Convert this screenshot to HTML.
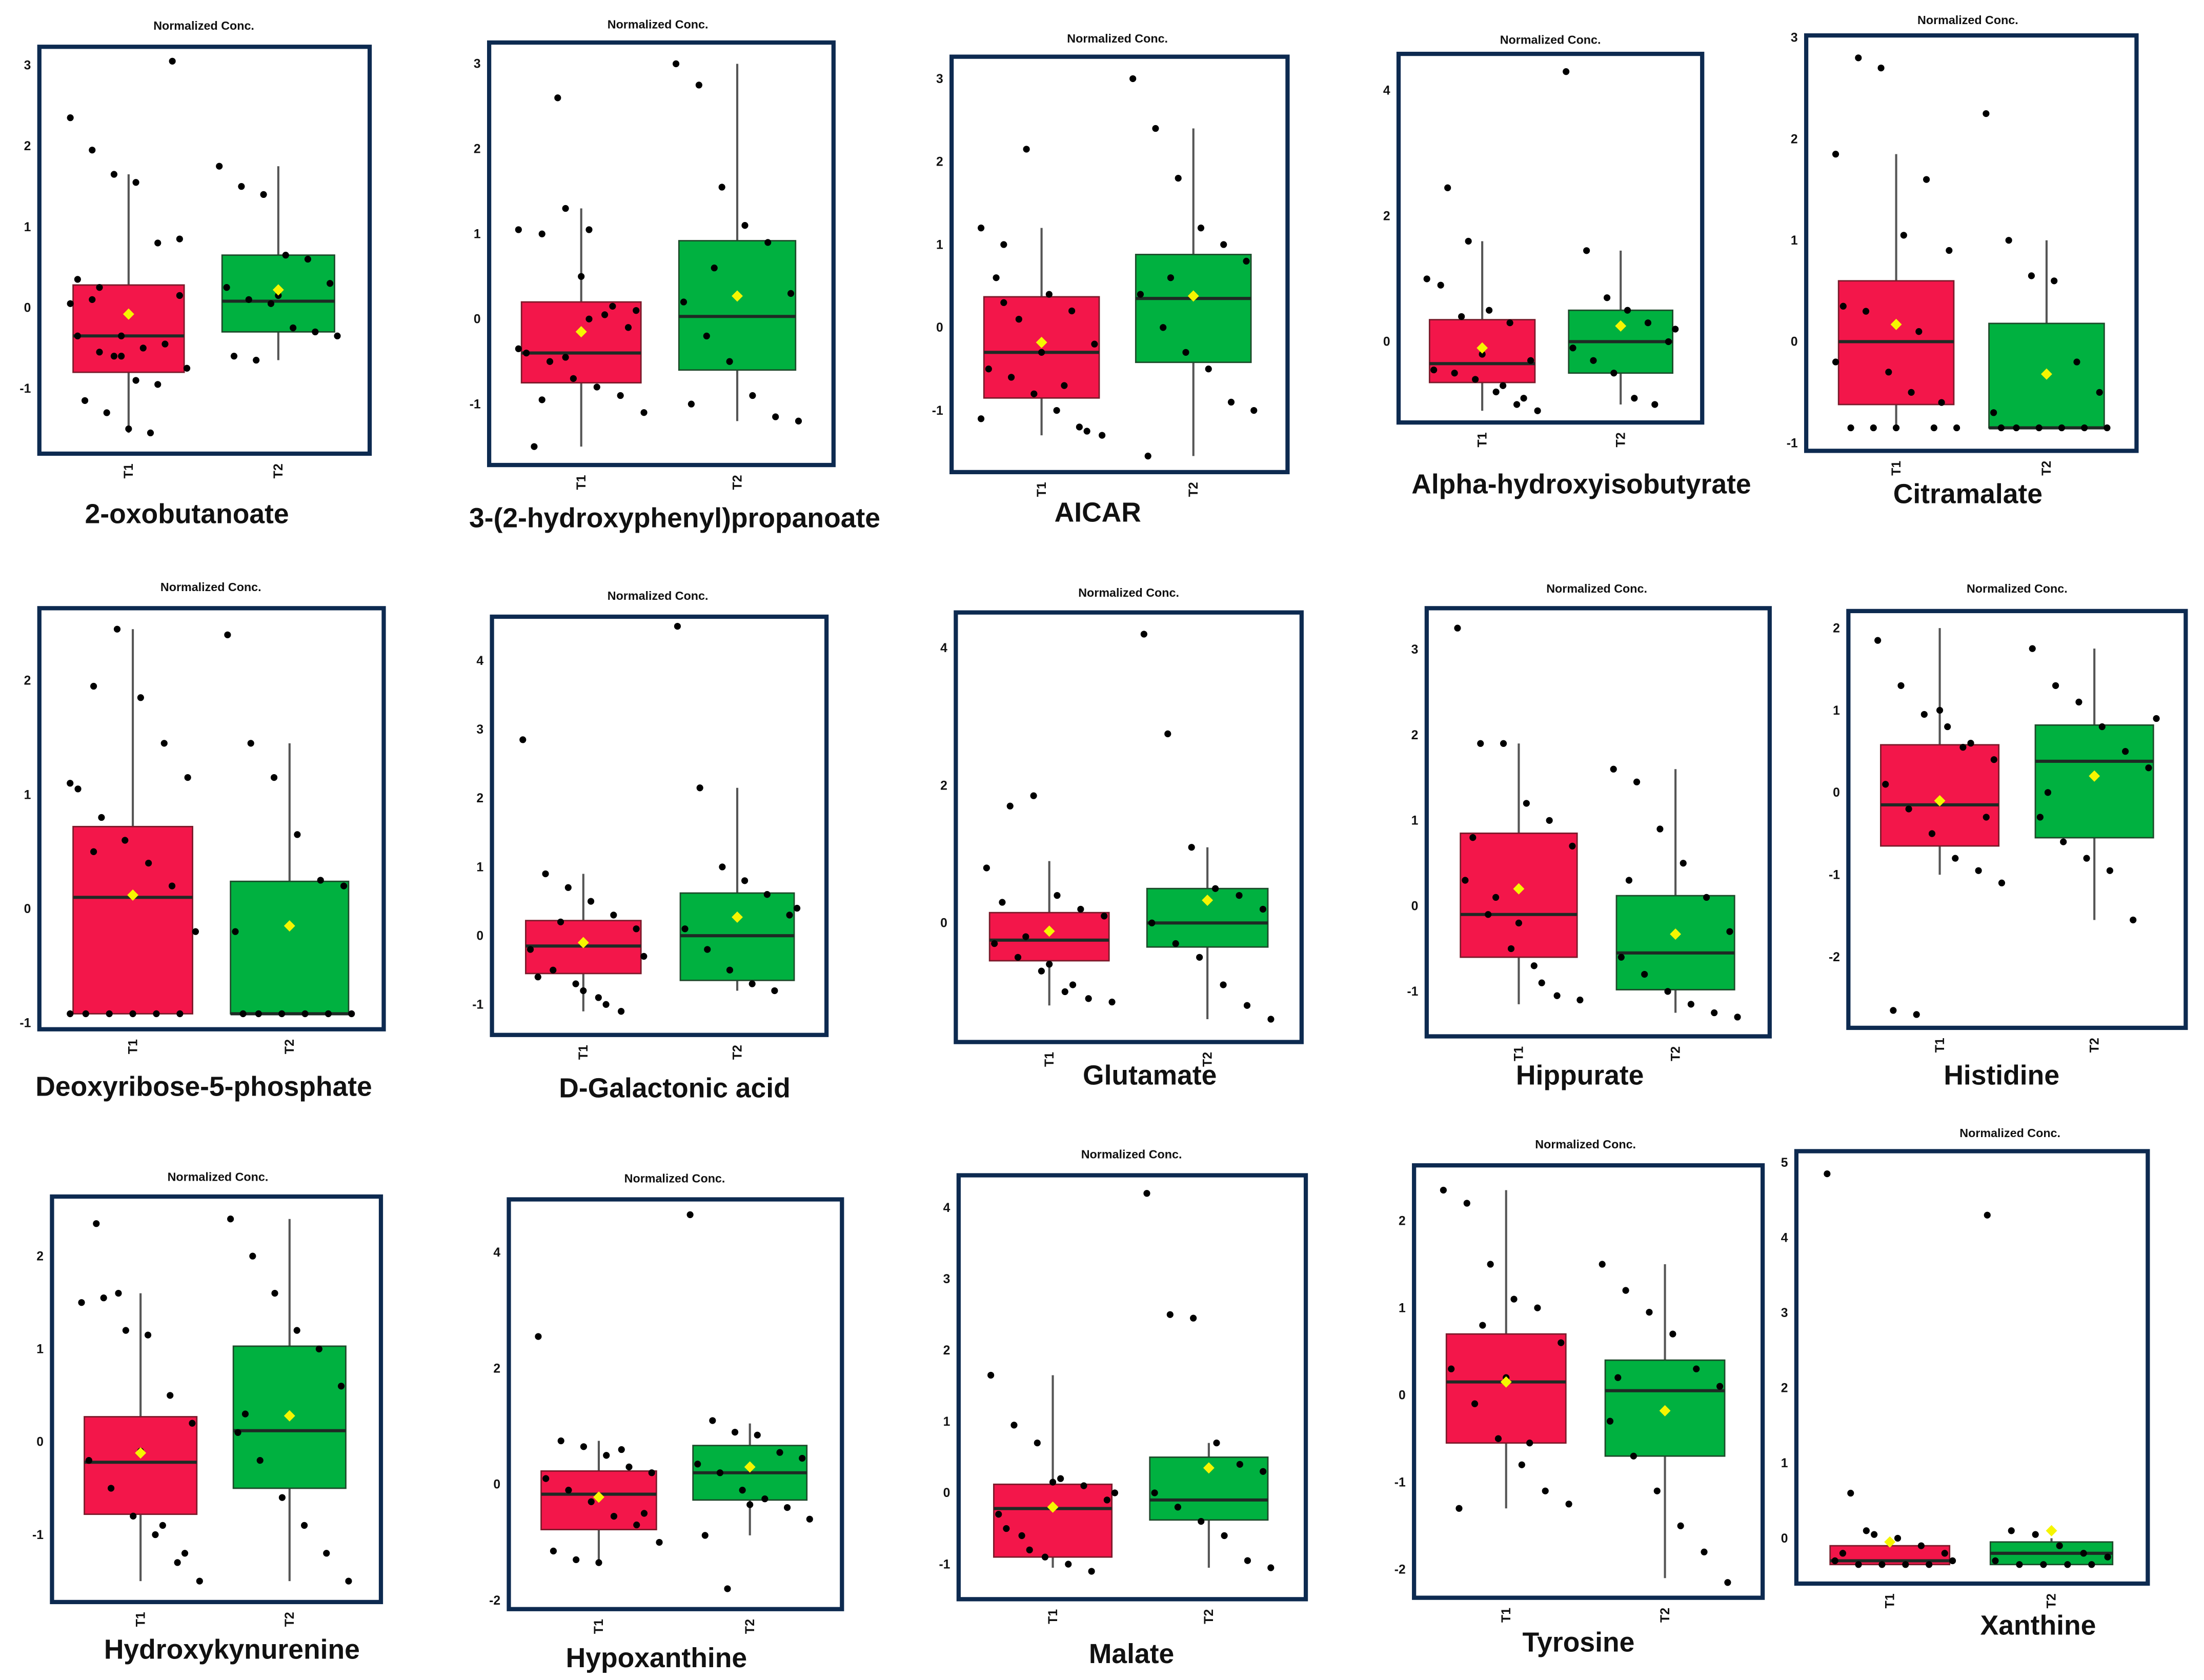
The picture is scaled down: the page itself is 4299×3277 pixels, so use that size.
<!DOCTYPE html>
<html><head><meta charset="utf-8">
<style>
html,body{margin:0;padding:0;background:#fff;}
svg{display:block;}
text{font-family:"Liberation Sans",Arial,sans-serif;font-weight:bold;fill:#111;}
</style></head>
<body>
<svg id="fig" width="4299" height="3277" viewBox="0 0 1568 1185" preserveAspectRatio="none" xmlns="http://www.w3.org/2000/svg"></svg>
<script>
// ---- data ----
const metaboliteNames = ["2-oxobutanoate","3-(2-hydroxyphenyl)propanoate","AICAR","Alpha-hydroxyisobutyrate","Citramalate","Deoxyribose-5-phosphate","D-Galactonic acid","Glutamate","Hippurate","Histidine","Hydroxykynurenine","Hypoxanthine","Malate","Tyrosine","Xanthine"];
const groupLabels = ["T1","T2"];
const tickValues = [[-1,0,1,2,3],[-1,0,1,2,3],[-1,0,1,2,3],[0,2,4],[-1,0,1,2,3],[-1,0,1,2],[-1,0,1,2,3,4],[0,2,4],[-1,0,1,2,3],[-2,-1,0,1,2],[-1,0,1,2],[-2,0,2,4],[-1,0,1,2,3,4],[-2,-1,0,1,2],[0,1,2,3,4,5]];
// box stats: [whiskerLow, q1, median, q3, whiskerHigh, mean]
const t1Stats = [[-1.55,-0.8,-0.35,0.28,1.65,-0.08],[-1.5,-0.75,-0.4,0.2,1.3,-0.15],[-1.3,-0.85,-0.3,0.37,1.2,-0.18],[-1.1,-0.65,-0.35,0.35,1.6,-0.1],[-0.85,-0.62,0.0,0.6,1.85,0.17],[-0.92,-0.92,0.1,0.72,2.45,0.12],[-1.1,-0.55,-0.15,0.22,0.9,-0.1],[-1.2,-0.55,-0.25,0.15,0.9,-0.12],[-1.15,-0.6,-0.1,0.85,1.9,0.2],[-1.0,-0.65,-0.15,0.58,2.0,-0.1],[-1.5,-0.78,-0.22,0.27,1.6,-0.12],[-1.37,-0.78,-0.17,0.23,0.75,-0.22],[-1.05,-0.9,-0.22,0.12,1.65,-0.2],[-1.3,-0.55,0.15,0.7,2.35,0.15],[-0.35,-0.35,-0.3,-0.1,0.0,-0.05]];
const t2Stats = [[-0.65,-0.3,0.08,0.65,1.75,0.22],[-1.2,-0.6,0.03,0.92,3.0,0.27],[-1.55,-0.42,0.35,0.88,2.4,0.38],[-1.0,-0.5,0.0,0.5,1.45,0.25],[-0.85,-0.85,-0.85,0.18,1.0,-0.32],[-0.92,-0.92,-0.92,0.24,1.45,-0.15],[-0.8,-0.65,0.0,0.62,2.15,0.27],[-1.4,-0.35,0.0,0.5,1.1,0.33],[-1.25,-0.98,-0.55,0.12,1.6,-0.33],[-1.55,-0.55,0.38,0.82,1.75,0.2],[-1.5,-0.5,0.12,1.03,2.4,0.28],[-0.88,-0.27,0.2,0.67,1.05,0.3],[-1.05,-0.38,-0.1,0.5,0.7,0.35],[-2.1,-0.7,0.05,0.4,1.5,-0.18],[-0.35,-0.35,-0.2,-0.05,0.0,0.1]];
const t1Points = [
 [2.35,1.95,1.65,1.55,0.8,0.85,0.35,0.25,-0.35,-0.5,-0.45,-0.75,-1.15,-1.3,-1.5,-1.55,3.05,0.05,0.1,-0.6,-0.9,-0.95,0.15,-0.35,-0.55,-0.6],
 [1.05,1.0,1.3,1.05,0.15,0.1,-0.4,-0.5,-0.7,-0.8,-0.9,-1.1,-1.5,2.6,0.5,0.05,-0.1,-0.35,-0.95,-0.45,0.0],
 [1.2,1.0,2.15,0.4,0.2,-0.2,-0.5,-0.6,-0.8,-1.0,-1.2,-1.3,0.6,0.1,-0.3,-0.7,-1.25,-1.1,0.3],
 [1.0,2.45,1.6,0.5,0.3,-0.3,-0.45,-0.5,-0.6,-0.8,-1.0,-1.1,0.9,0.4,-0.2,-0.7,-0.9],
 [1.85,2.8,2.7,1.05,1.6,0.9,0.35,0.3,-0.3,-0.5,-0.85,-0.85,-0.85,-0.85,-0.85,0.1,-0.6,-0.2],
 [1.1,1.95,2.45,1.85,1.45,1.15,1.05,0.8,0.6,0.4,0.2,-0.2,-0.92,-0.92,-0.92,-0.92,-0.92,-0.92,0.5],
 [2.85,0.9,0.7,0.5,0.3,0.1,-0.2,-0.5,-0.7,-0.9,-1.1,-0.3,-0.6,0.2,-0.8,-1.0],
 [0.8,1.7,1.85,0.4,0.2,0.1,-0.3,-0.5,-0.7,-1.0,-1.1,-1.15,0.3,-0.2,-0.6,-0.9],
 [3.25,1.9,1.9,1.2,1.0,0.7,0.3,-0.1,-0.5,-0.7,-1.05,-1.1,0.8,0.1,-0.2,-0.9],
 [1.85,1.3,0.95,0.8,0.6,0.4,0.1,-0.2,-0.5,-0.8,-0.95,-1.1,-2.65,-2.7,1.0,0.55,-0.3],
 [1.5,1.55,1.2,1.15,0.5,0.2,-0.2,-0.5,-0.8,-1.0,-1.3,-1.5,2.35,1.6,-0.1,-0.9,-1.2],
 [2.55,0.75,0.65,0.5,0.3,0.2,0.1,-0.1,-0.3,-0.55,-0.7,-1.0,-1.15,-1.3,-1.35,0.6,-0.5],
 [1.65,0.95,0.7,0.2,0.1,-0.1,-0.3,-0.6,-0.9,-1.0,-1.1,0.0,-0.5,-0.8,0.15],
 [2.35,2.2,1.5,1.1,1.0,0.6,0.3,-0.1,-0.5,-0.8,-1.1,-1.25,-1.3,0.8,0.2,-0.55],
 [4.85,0.6,0.05,0.0,-0.1,-0.2,-0.3,-0.35,-0.35,-0.35,-0.35,-0.3,-0.2,0.1]];
const t2Points = [
 [1.75,1.5,1.4,0.65,0.6,0.3,0.25,0.1,0.05,-0.25,-0.3,-0.35,-0.6,-0.65,0.15],
 [3.0,2.75,1.55,1.1,0.9,0.3,0.2,-0.2,-0.5,-0.9,-1.15,-1.2,-1.0,0.6],
 [3.0,2.4,1.8,1.2,1.0,0.8,0.4,0.0,-0.3,-0.5,-0.9,-1.0,-1.55,0.6],
 [4.3,1.45,0.7,0.5,0.3,0.0,-0.1,-0.3,-0.5,-0.9,-1.0,0.2],
 [2.25,1.0,0.65,0.6,-0.2,-0.5,-0.7,-0.85,-0.85,-0.85,-0.85,-0.85,-0.85],
 [2.4,1.45,1.15,0.65,0.25,0.2,-0.2,-0.92,-0.92,-0.92,-0.92,-0.92,-0.92],
 [4.5,2.15,1.0,0.8,0.6,0.3,0.1,-0.2,-0.5,-0.7,-0.8,0.4],
 [4.2,2.75,1.1,0.5,0.4,0.2,0.0,-0.3,-0.5,-0.9,-1.2,-1.4],
 [1.6,1.45,0.9,0.5,0.1,-0.3,-0.6,-0.8,-1.0,-1.15,-1.25,-1.3,0.3],
 [1.75,1.3,1.1,0.8,0.5,0.3,-0.3,-0.6,-0.8,-0.95,-1.55,0.9,0.0],
 [2.4,2.0,1.6,1.2,1.0,0.6,0.1,-0.2,-0.6,-0.9,-1.2,-1.5,0.3],
 [4.65,1.1,0.9,0.85,0.55,0.45,0.35,0.2,-0.1,-0.25,-0.4,-0.6,-0.88,-1.8,-0.35],
 [4.2,2.5,2.45,0.7,0.4,0.3,0.0,-0.2,-0.4,-0.6,-0.95,-1.05],
 [1.5,1.2,0.95,0.7,0.3,0.1,-0.3,-0.7,-1.1,-1.5,-1.8,-2.15,0.2],
 [4.3,0.1,0.05,-0.1,-0.2,-0.25,-0.3,-0.35,-0.35,-0.35,-0.35]];
// ---- layout (not data) ----
const layout = [
 {f:[28,33,263,320],y0:217,k:57,b1:[52,131],b2:[158,238],ty:18,tx:145,nx:133,ny:366},
 {f:[348,30,593,328],y0:225,k:60,b1:[371,456],b2:[483,566],ty:17,tx:468,nx:480,ny:369},
 {f:[677,40,916,333],y0:231,k:58.5,b1:[700,782],b2:[808,890],ty:27,tx:795,nx:781,ny:365},
 {f:[995,38,1211,298],y0:241,k:44.3,b1:[1017,1092],b2:[1116,1190],ty:28,tx:1103,nx:1125,ny:345},
 {f:[1285,25,1520,318],y0:241,k:71.5,b1:[1308,1390],b2:[1415,1497],ty:14,tx:1400,nx:1400,ny:352},
 {f:[28,429,273,726],y0:641,k:80.5,b1:[52,137],b2:[164,248],ty:414,tx:150,nx:145,ny:770},
 {f:[350,435,588,730],y0:660,k:48.5,b1:[374,456],b2:[484,565],ty:420,tx:468,nx:480,ny:771},
 {f:[680,432,926,735],y0:651,k:48.5,b1:[704,789],b2:[816,902],ty:418,tx:803,nx:818,ny:762},
 {f:[1015,429,1259,731],y0:639,k:60.3,b1:[1039,1122],b2:[1150,1234],ty:415,tx:1136,nx:1124,ny:762},
 {f:[1315,431,1555,725],y0:559,k:58,b1:[1338,1422],b2:[1448,1532],ty:415,tx:1435,nx:1424,ny:762},
 {f:[37,844,271,1130],y0:1017,k:65.5,b1:[60,140],b2:[166,246],ty:830,tx:155,nx:165,ny:1167},
 {f:[362,846,599,1135],y0:1047,k:40.9,b1:[385,467],b2:[493,574],ty:831,tx:480,nx:467,ny:1173},
 {f:[682,829,929,1128],y0:1053,k:50.3,b1:[707,791],b2:[818,902],ty:814,tx:805,nx:805,ny:1170},
 {f:[1006,822,1254,1127],y0:984,k:61.5,b1:[1029,1114],b2:[1142,1227],ty:807,tx:1128,nx:1123,ny:1162},
 {f:[1278,812,1528,1117],y0:1085,k:53,b1:[1302,1387],b2:[1416,1503],ty:799,tx:1430,nx:1450,ny:1150}];
const NS="http://www.w3.org/2000/svg";
const svg=document.getElementById('fig');
function mk(tag,attrs,parent){const e=document.createElementNS(NS,tag);for(const a in attrs)e.setAttribute(a,attrs[a]);(parent||svg).appendChild(e);return e;}
metaboliteNames.forEach((name,p)=>{
 const L=layout[p];
 const yScale=v=>L.y0-L.k*v;
 const g=mk('g',{});
 
 
 const t=mk('text',{x:L.tx,y:L.ty+3,'text-anchor':'middle','font-size':8.5},g);t.textContent='Normalized Conc.';
 
 
 const [x0,y0,x1,y1]=L.f;
 tickValues[p].forEach(v=>{
  const tt=mk('text',{x:x0-6,y:yScale(v)+3,'text-anchor':'end','font-size':9},g);tt.textContent=v;
  
  
 });
 [[t1Stats[p],t1Points[p],L.b1,'#f3164a','#7a1a2a'],[t2Stats[p],t2Points[p],L.b2,'#00b140','#1d4a2a']].forEach((grp,gi)=>{
  const [s,pts,b,fill,stroke]=grp;
  const cx=(b[0]+b[1])/2, w=b[1]-b[0];
  const wl=mk('line',{x1:cx,x2:cx,y1:yScale(s[0]),y2:yScale(s[4]),stroke:'#555','stroke-width':1.5},g);
  
  
  const r=mk('rect',{x:b[0],y:yScale(s[3]),width:w,height:Math.max(1,yScale(s[1])-yScale(s[3])),fill:fill,stroke:stroke,'stroke-width':1},g);
  
  
  const m=mk('line',{x1:b[0],x2:b[1],y1:yScale(s[2]),y2:yScale(s[2]),stroke:'#1e2a24','stroke-width':2.2},g);
  
  
  pts.forEach((v,i)=>{
   const jx=cx+(((i*37)%17)/16-0.5)*w*1.05;
   const c=mk('circle',{cx:jx,cy:yScale(v),r:2.4,fill:'#000'},g);
   
   
  });
  const my=yScale(s[5]);
  const d=mk('polygon',{points:`${cx},${my-4} ${cx+4},${my} ${cx},${my+4} ${cx-4},${my}`,fill:'#f5f500'},g);
  
  
  const xl=mk('text',{x:0,y:0,'text-anchor':'end','font-size':9,'font-weight':'normal',transform:`translate(${cx+3},${y1+7}) rotate(-90)`},g);
  xl.textContent=groupLabels[gi];
  
  
 });
 const fr=mk('rect',{x:x0,y:y0,width:x1-x0,height:y1-y0,fill:'none',stroke:'#0d2a50','stroke-width':3},g);
 
 
 const n=mk('text',{x:L.nx,y:L.ny+3,'text-anchor':'middle','font-size':19.5},g);n.textContent=name;
 
 
});
</script>
</body></html>
